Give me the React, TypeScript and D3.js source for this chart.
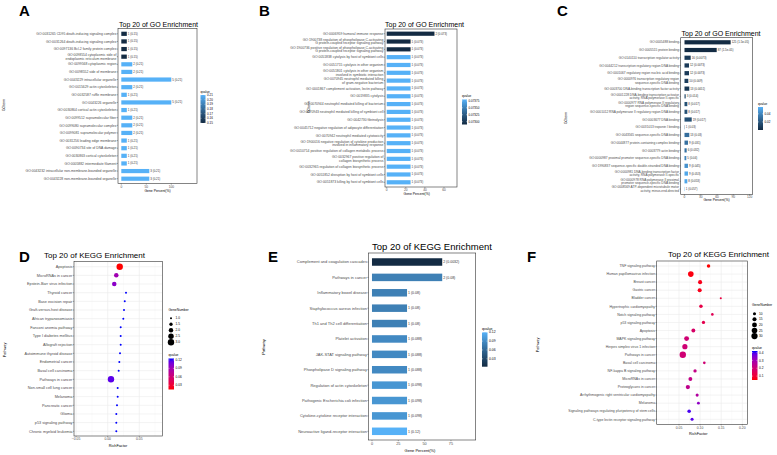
import React from "react";
import * as d3 from "d3";

const FONT = "'Liberation Sans', Arial, Helvetica, sans-serif";
const LOW = "#132B43";
const HIGH = "#56B1F7";

// ---------------- Panel A (GO) ----------------
const termsA = [
  "GO:0031265 CD95 death-inducing signaling complex",
  "GO:0031264 death-inducing signaling complex",
  "GO:0097136 Bcl-2 family protein complex",
  "GO:0098554 cytoplasmic side of\nendoplasmic reticulum membrane",
  "GO:0099568 cytoplasmic region",
  "GO:0098552 side of membrane",
  "GO:0043229 intracellular organelle",
  "GO:0015629 actin cytoskeleton",
  "GO:0032587 ruffle membrane",
  "GO:0043226 organelle",
  "GO:0030864 cortical actin cytoskeleton",
  "GO:0099512 supramolecular fiber",
  "GO:0099080 supramolecular complex",
  "GO:0099081 supramolecular polymer",
  "GO:0031256 leading edge membrane",
  "GO:0090734 site of DNA damage",
  "GO:0030863 cortical cytoskeleton",
  "GO:0005882 intermediate filament",
  "GO:0043232 intracellular non-membrane-bounded organelle",
  "GO:0043228 non-membrane-bounded organelle",
];
const countA = [1, 1, 1, 1, 2, 2, 5, 2, 1, 5, 1, 2, 2, 2, 1, 1, 1, 1, 3, 3];
const pctA = [11, 11, 11, 11, 22, 22, 100, 22, 11, 100, 11, 22, 22, 22, 11, 11, 11, 11, 56, 56];
const qA = [0.15, 0.15, 0.15, 0.15, 0.21, 0.21, 0.21, 0.21, 0.21, 0.21, 0.21, 0.21, 0.21, 0.21, 0.21, 0.21, 0.21, 0.21, 0.21, 0.21];
const xTicksA = [0, 50, 100];
const qTicksA = [0.15, 0.16, 0.17, 0.18, 0.19, 0.2, 0.21];

// ---------------- Panel B (GO) ----------------
const termsB = [
  "GO:0006959 humoral immune response",
  "GO:1900738 regulation of phospholipase C-activating\nG protein-coupled receptor signaling pathway",
  "GO:1900736 positive regulation of phospholipase C-activating\nG protein-coupled receptor signaling pathway",
  "GO:0051838 cytolysis by host of symbiont cells",
  "GO:0051715 cytolysis in other organism",
  "GO:0051801 cytolysis in other organism\ninvolved in symbiotic interaction",
  "GO:0070945 neutrophil mediated killing\nof gram-negative bacterium",
  "GO:0001867 complement activation, lectin pathway",
  "GO:0019835 cytolysis",
  "GO:0070944 neutrophil mediated killing of bacterium",
  "GO:0070943 neutrophil mediated killing of symbiont cell",
  "GO:0042730 fibrinolysis",
  "GO:0045712 negative regulation of adipocyte differentiation",
  "GO:0070942 neutrophil mediated cytotoxicity",
  "GO:1900016 negative regulation of cytokine production\ninvolved in inflammatory response",
  "GO:0010714 positive regulation of collagen metabolic process",
  "GO:0032967 positive regulation of\ncollagen biosynthetic process",
  "GO:0032965 regulation of collagen biosynthetic process",
  "GO:0051852 disruption by host of symbiont cells",
  "GO:0051873 killing by host of symbiont cells",
];
const countB = [2, 1, 1, 1, 1, 1, 1, 1, 1, 1, 1, 1, 1, 1, 1, 1, 1, 1, 1, 1];
const pctB = [50, 25, 25, 25, 25, 25, 25, 25, 25, 25, 25, 25, 25, 25, 25, 25, 25, 25, 25, 25];
const qB = [0.0729, 0.0729, 0.0729, 0.0738, 0.0738, 0.0738, 0.0738, 0.0738, 0.0738, 0.0738, 0.0738, 0.0738, 0.0738, 0.0738, 0.0738, 0.0738, 0.0738, 0.0738, 0.0738, 0.0738];
const qTextB = ["0.073", "0.073", "0.073", "0.073", "0.073", "0.073", "0.073", "0.073", "0.073", "0.073", "0.073", "0.073", "0.073", "0.073", "0.073", "0.073", "0.073", "0.073", "0.073", "0.073"];
const xTicksB = [0, 20, 40, 60];
const qTicksB = [0.073, 0.07325, 0.0735, 0.07375];

// ---------------- Panel C (GO) ----------------
const termsC = [
  "GO:0005488 binding",
  "GO:0005515 protein binding",
  "GO:0140110 transcription regulator activity",
  "GO:0044212 transcription regulatory region DNA binding",
  "GO:0001067 regulatory region nucleic acid binding",
  "GO:0000976 transcription regulatory region\nsequence-specific DNA binding",
  "GO:0003700 DNA-binding transcription factor activity",
  "GO:0001228 DNA-binding transcription activator\nactivity, RNA polymerase II-specific",
  "GO:0000977 RNA polymerase II regulatory\nregion sequence-specific DNA binding",
  "GO:0001012 RNA polymerase II regulatory region DNA binding",
  "GO:0003677 DNA binding",
  "GO:0031013 troponin I binding",
  "GO:0043565 sequence-specific DNA binding",
  "GO:0044877 protein-containing complex binding",
  "GO:0003779 actin binding",
  "GO:0000987 proximal promoter sequence-specific DNA binding",
  "GO:1990837 sequence-specific double-stranded DNA binding",
  "GO:0000981 DNA-binding transcription factor\nactivity, RNA polymerase II-specific",
  "GO:0000978 RNA polymerase II proximal\npromoter sequence-specific DNA binding",
  "GO:0008569 ATP-dependent microtubule motor\nactivity, minus-end-directed",
];
const countC = [125, 87, 16, 12, 12, 10, 13, 3, 8, 8, 19, 1, 13, 9, 6, 5, 9, 9, 8, 1];
const pctC = [85, 59.3, 11.4, 8.3, 8.3, 7, 8.8, 2.2, 5.2, 5.2, 13.3, 0.6, 8.8, 6.4, 4, 3.3, 6.4, 6.4, 5.2, 0.6];
const qC = [0.000015, 0.000015, 0.0073, 0.0073, 0.0073, 0.009, 0.0051, 0.014, 0.017, 0.017, 0.017, 0.03, 0.03, 0.031, 0.032, 0.04, 0.045, 0.053, 0.053, 0.057];
const qTextC = ["1.5e-05", "1.5e-05", "0.0073", "0.0073", "0.0073", "0.009", "0.0051", "0.014", "0.017", "0.017", "0.017", "0.03", "0.03", "0.031", "0.032", "0.04", "0.045", "0.053", "0.053", "0.057"];
const xTicksC = [0, 30, 60, 90, 120];
const qTicksC = [0.02, 0.04];

// ---------------- Panel D (KEGG dot) ----------------
const termsD = [
  "Apoptosis", "MicroRNAs in cancer", "Epstein-Barr virus infection", "Thyroid cancer",
  "Base excision repair", "Graft-versus-host disease", "African trypanosomiasis",
  "Fanconi anemia pathway", "Type I diabetes mellitus", "Allograft rejection",
  "Autoimmune thyroid disease", "Endometrial cancer", "Basal cell carcinoma",
  "Pathways in cancer", "Non-small cell lung cancer", "Melanoma", "Pancreatic cancer",
  "Glioma", "p53 signaling pathway", "Chronic myeloid leukemia",
];
const richD = [0.019, 0.0136, 0.0104, 0.029, 0.027, 0.0258, 0.0247, 0.0206, 0.0206, 0.0206, 0.0195, 0.0184, 0.0174, 0.0052, 0.0158, 0.0158, 0.0147, 0.0136, 0.0136, 0.0136];
const geneD = [3, 2, 2, 1, 1, 1, 1, 1, 1, 1, 1, 1, 1, 3, 1, 1, 1, 1, 1, 1];
const qD = [0.015, 0.09, 0.1, 0.125, 0.125, 0.125, 0.125, 0.125, 0.125, 0.125, 0.125, 0.125, 0.125, 0.115, 0.125, 0.125, 0.125, 0.125, 0.125, 0.125];
const xTicksD = [-0.05, 0, 0.05];
const sizeTicksD = [1, 1.5, 2, 2.5, 3];
const qTicksD = [0.03, 0.06, 0.09, 0.12];

// ---------------- Panel E (KEGG bar) ----------------
const termsE = [
  "Complement and coagulation cascades", "Pathways in cancer", "Inflammatory bowel disease",
  "Staphylococcus aureus infection", "Th1 and Th2 cell differentiation", "Platelet activation",
  "JAK-STAT signaling pathway", "Phospholipase D signaling pathway", "Regulation of actin cytoskeleton",
  "Pathogenic Escherichia coli infection", "Cytokine-cytokine receptor interaction",
  "Neuroactive ligand-receptor interaction",
];
const countE = [2, 2, 1, 1, 1, 1, 1, 1, 1, 1, 1, 1];
const pctE = [66.7, 66.7, 33.3, 33.3, 33.3, 33.3, 33.3, 33.3, 33.3, 33.3, 33.3, 33.3];
const qE = [0.0032, 0.08, 0.08, 0.08, 0.08, 0.088, 0.088, 0.088, 0.098, 0.098, 0.098, 0.12];
const qTextE = ["0.0032", "0.08", "0.08", "0.08", "0.08", "0.088", "0.088", "0.088", "0.098", "0.098", "0.098", "0.12"];
const xTicksE = [0, 25, 50, 75];
const qTicksE = [0.03, 0.06, 0.09, 0.12];

// ---------------- Panel F (KEGG dot) ----------------
const termsF = [
  "TNF signaling pathway", "Human papillomavirus infection", "Breast cancer", "Gastric cancer",
  "Bladder cancer", "Hypertrophic cardiomyopathy", "Notch signaling pathway", "p53 signaling pathway",
  "Apoptosis", "MAPK signaling pathway", "Herpes simplex virus 1 infection", "Pathways in cancer",
  "Basal cell carcinoma", "NF-kappa B signaling pathway", "MicroRNAs in cancer",
  "Proteoglycans in cancer", "Arrhythmogenic right ventricular cardiomyopathy", "Melanoma",
  "Signaling pathways regulating pluripotency of stem cells", "C-type lectin receptor signaling pathway",
];
const richF = [0.12, 0.078, 0.1, 0.099, 0.149, 0.102, 0.129, 0.108, 0.084, 0.068, 0.064, 0.059, 0.11, 0.088, 0.077, 0.071, 0.093, 0.096, 0.074, 0.081];
const geneF = [12, 25, 15, 15, 6, 12, 8, 11, 14, 20, 22, 31, 8, 11, 14, 16, 10, 9, 12, 10];
const qF = [0.05, 0.06, 0.07, 0.07, 0.12, 0.13, 0.15, 0.14, 0.18, 0.2, 0.2, 0.2, 0.2, 0.23, 0.23, 0.24, 0.27, 0.33, 0.4, 0.39];
const xTicksF = [0.05, 0.1, 0.15, 0.2];
const sizeTicksF = [10, 15, 20, 25, 30];
const qTicksF = [0.1, 0.2, 0.3, 0.4];

// ---------------- helpers ----------------
function fmtQ(q: number) {
  if (q < 0.001) return q.toExponential(1).replace(/e-(\d)$/, "e-0$1");
  return String(q);
}

function Lines({ x, y, text, size, anchor = "end", fill = "#4D4D4D", lh = 1.05 }: any) {
  const lines = String(text).split("\n");
  const step = size * lh;
  const y0 = y - ((lines.length - 1) * step) / 2;
  return (
    <text fontSize={size} textAnchor={anchor} fill={fill} fontFamily={FONT}>
      {lines.map((l: string, i: number) => (
        <tspan key={i} x={x} y={y0 + i * step} dy="0.35em">
          {l}
        </tspan>
      ))}
    </text>
  );
}

function ColorBar({ id, x, y, w, h, domain, ticks, fmt, low, high, title, fs }: any) {
  const c = d3.scaleLinear<string>().domain(domain).range([low, high]).interpolate(d3.interpolateLab);
  const s = d3.scaleLinear().domain(domain).range([y + h, y]);
  const stops = d3.range(0, 11).map((i) => i / 10);
  return (
    <g>
      <text x={x} y={y - 2.5} fontSize={fs * 1.05} fontFamily={FONT} fill="#000">
        {title}
      </text>
      <defs>
        <linearGradient id={id} x1="0" y1="1" x2="0" y2="0">
          {stops.map((t) => (
            <stop key={t} offset={t} stopColor={c(domain[0] + t * (domain[1] - domain[0]))} />
          ))}
        </linearGradient>
      </defs>
      <rect x={x} y={y} width={w} height={h} fill={`url(#${id})`} />
      {ticks.map((t: number) => (
        <g key={t}>
          <line x1={x} x2={x + w * 0.2} y1={s(t)} y2={s(t)} stroke="#fff" strokeWidth={0.4} />
          <line x1={x + w * 0.8} x2={x + w} y1={s(t)} y2={s(t)} stroke="#fff" strokeWidth={0.4} />
          <text x={x + w + 1.5} y={s(t)} dy="0.35em" fontSize={fs} fontFamily={FONT} fill="#000">
            {fmt(t)}
          </text>
        </g>
      ))}
    </g>
  );
}

function BarPanel({ id, cfg, terms, pct, count, q, qText, xTicks, qTicks }: any) {
  const x = d3.scaleLinear().domain(cfg.xDomain).range([cfg.fx0, cfg.fx1]);
  const y = d3.scalePoint<number>().domain(terms.map((_: any, i: number) => i)).range([cfg.r0, cfg.r1]);
  const color = d3.scaleLinear<string>().domain(cfg.qDomain).range([LOW, HIGH]).interpolate(d3.interpolateLab).clamp(true);
  const bh = cfg.barH;
  return (
    <g>
      <text x={cfg.letter[0]} y={cfg.letter[1]} fontSize={cfg.letterSize} fontWeight="bold" fontFamily={FONT}>
        {cfg.letterText}
      </text>
      <text x={cfg.title[0]} y={cfg.title[1]} fontSize={cfg.titleSize} fontFamily={FONT} fill="#000">
        {cfg.titleText}
      </text>
      <rect x={cfg.fx0} y={cfg.fy0} width={cfg.fx1 - cfg.fx0} height={cfg.fy1 - cfg.fy0} fill="#fff" stroke="#333" strokeWidth={0.6} />
      {terms.map((t: string, i: number) => (
        <g key={i}>
          <rect x={x(0)} y={(y(i) as number) - bh / 2} width={x(pct[i]) - x(0)} height={bh} fill={color(q[i])} />
          <text x={x(pct[i]) + 1} y={y(i)} dy="0.35em" fontSize={cfg.valSize} fontFamily={FONT} fill="#333">
            {`${count[i]} (${qText ? qText[i] : fmtQ(q[i])})`}
          </text>
          <line x1={cfg.fx0 - 1.2} x2={cfg.fx0} y1={y(i)} y2={y(i)} stroke="#333" strokeWidth={0.4} />
          <Lines x={cfg.fx0 - 1.6} y={y(i)} text={t} size={cfg.labSize} />
        </g>
      ))}
      {xTicks.map((t: number) => (
        <g key={t}>
          <line x1={x(t)} x2={x(t)} y1={cfg.fy1} y2={cfg.fy1 + 1.2} stroke="#333" strokeWidth={0.4} />
          <text x={x(t)} y={cfg.fy1 + 1.6 + cfg.tickSize * 0.8} fontSize={cfg.tickSize} textAnchor="middle" fontFamily={FONT} fill="#4D4D4D">
            {t}
          </text>
        </g>
      ))}
      <text x={cfg.xTitle[0]} y={cfg.xTitle[1]} fontSize={cfg.axTitleSize} textAnchor="middle" fontFamily={FONT}>
        Gene Percent(%)
      </text>
      <text
        transform={`translate(${cfg.yTitle[0]},${cfg.yTitle[1]}) rotate(-90)`}
        fontSize={cfg.axTitleSize}
        textAnchor="middle"
        fontFamily={FONT}
      >
        {cfg.yTitleText}
      </text>
      <ColorBar
        id={id}
        x={cfg.legend[0]}
        y={cfg.legend[1]}
        w={cfg.legend[2]}
        h={cfg.legend[3]}
        domain={cfg.qDomain}
        ticks={qTicks}
        fmt={cfg.qFmt}
        low={LOW}
        high={HIGH}
        title="qvalue"
        fs={cfg.legSize}
      />
    </g>
  );
}

function DotPanel({ id, cfg, terms, rich, gene, q, xTicks, sizeTicks, qTicks }: any) {
  const x = d3.scaleLinear().domain(cfg.xDomain).range([cfg.fx0, cfg.fx1]);
  const y = d3.scalePoint<number>().domain(terms.map((_: any, i: number) => i)).range([cfg.r0, cfg.r1]);
  const r = d3.scaleSqrt().domain(cfg.sizeDomain).range(cfg.sizeRange);
  const color = d3.scaleLinear<string>().domain(cfg.qDomain).range(["#FF0000", "#0000FF"]).interpolate(d3.interpolateLab).clamp(true);
  const minor = xTicks.slice(0, -1).map((t: number, i: number) => (t + xTicks[i + 1]) / 2);
  const step = xTicks[1] - xTicks[0];
  minor.unshift(xTicks[0] - step / 2);
  minor.push(xTicks[xTicks.length - 1] + step / 2);
  return (
    <g>
      <text x={cfg.letter[0]} y={cfg.letter[1]} fontSize={cfg.letterSize} fontWeight="bold" fontFamily={FONT}>
        {cfg.letterText}
      </text>
      <text x={cfg.title[0]} y={cfg.title[1]} fontSize={cfg.titleSize} fontFamily={FONT} fill="#000">
        Top 20 of KEGG Enrichment
      </text>
      <rect x={cfg.fx0} y={cfg.fy0} width={cfg.fx1 - cfg.fx0} height={cfg.fy1 - cfg.fy0} fill="#fff" />
      <g clipPath={`url(#clip-${id})`}>
        <defs>
          <clipPath id={`clip-${id}`}>
            <rect x={cfg.fx0} y={cfg.fy0} width={cfg.fx1 - cfg.fx0} height={cfg.fy1 - cfg.fy0} />
          </clipPath>
        </defs>
        {minor.map((t: number) => (
          <line key={"m" + t} x1={x(t)} x2={x(t)} y1={cfg.fy0} y2={cfg.fy1} stroke="#F2F2F2" strokeWidth={0.3} />
        ))}
        {xTicks.map((t: number) => (
          <line key={"g" + t} x1={x(t)} x2={x(t)} y1={cfg.fy0} y2={cfg.fy1} stroke="#EBEBEB" strokeWidth={0.6} />
        ))}
        {terms.map((_: string, i: number) => (
          <line key={"h" + i} x1={cfg.fx0} x2={cfg.fx1} y1={y(i)} y2={y(i)} stroke="#EBEBEB" strokeWidth={0.6} />
        ))}
        {terms.map((_: string, i: number) => (
          <circle key={"c" + i} cx={x(rich[i])} cy={y(i)} r={r(gene[i])} fill={color(q[i])} />
        ))}
      </g>
      <rect x={cfg.fx0} y={cfg.fy0} width={cfg.fx1 - cfg.fx0} height={cfg.fy1 - cfg.fy0} fill="none" stroke="#333" strokeWidth={0.6} />
      {terms.map((t: string, i: number) => (
        <g key={i}>
          <line x1={cfg.fx0 - 1.2} x2={cfg.fx0} y1={y(i)} y2={y(i)} stroke="#333" strokeWidth={0.4} />
          <Lines x={cfg.fx0 - 1.6} y={y(i)} text={t} size={cfg.labSize} />
        </g>
      ))}
      {xTicks.map((t: number) => (
        <g key={t}>
          <line x1={x(t)} x2={x(t)} y1={cfg.fy1} y2={cfg.fy1 + 1.2} stroke="#333" strokeWidth={0.4} />
          <text x={x(t)} y={cfg.fy1 + 1.6 + cfg.tickSize * 0.8} fontSize={cfg.tickSize} textAnchor="middle" fontFamily={FONT} fill="#4D4D4D">
            {d3.format(".2f")(t)}
          </text>
        </g>
      ))}
      <text x={cfg.xTitle[0]} y={cfg.xTitle[1]} fontSize={cfg.axTitleSize} textAnchor="middle" fontFamily={FONT}>
        RichFactor
      </text>
      <text transform={`translate(${cfg.yTitle[0]},${cfg.yTitle[1]}) rotate(-90)`} fontSize={cfg.axTitleSize} textAnchor="middle" fontFamily={FONT}>
        Pathway
      </text>
      <g>
        <text x={cfg.sizeLegend[0]} y={cfg.sizeLegend[1]} fontSize={cfg.legSize * 1.05} fontFamily={FONT}>
          GeneNumber
        </text>
        {sizeTicks.map((s: number, i: number) => {
          const yy = cfg.sizeLegend[1] + cfg.sizeLegend[3] + i * cfg.sizeLegend[2];
          return (
            <g key={s}>
              <circle cx={cfg.sizeLegend[0] + 2.5} cy={yy} r={r(s)} fill="#000" />
              <text x={cfg.sizeLegend[0] + 7} y={yy} dy="0.35em" fontSize={cfg.legSize} fontFamily={FONT}>
                {cfg.sizeFmt(s)}
              </text>
            </g>
          );
        })}
      </g>
      <ColorBar
        id={id + "-q"}
        x={cfg.legend[0]}
        y={cfg.legend[1]}
        w={cfg.legend[2]}
        h={cfg.legend[3]}
        domain={cfg.qDomain}
        ticks={qTicks}
        fmt={cfg.qFmt}
        low="#FF0000"
        high="#0000FF"
        title="qvalue"
        fs={cfg.legSize}
      />
    </g>
  );
}

const cfgA = {
  letterText: "A", letter: [19, 16], letterSize: 15,
  titleText: "Top 20 of GO Enrichment", title: [119, 26.8], titleSize: 7,
  fx0: 118, fx1: 197, fy0: 28.3, fy1: 183.5, r0: 33.8, r1: 178.7, barH: 4.2,
  xDomain: [-6.6, 151.4], qDomain: [0.15, 0.21],
  labSize: 3.4, valSize: 2.9, tickSize: 3.2, axTitleSize: 3.4, legSize: 3,
  xTitle: [157.5, 192], yTitle: [5, 105], yTitleText: "GOterm",
  legend: [200.5, 95, 5, 28], qFmt: d3.format(".2f"),
};
const cfgB = {
  letterText: "B", letter: [259, 16], letterSize: 15,
  titleText: "Top 20 of GO Enrichment", title: [385, 26.8], titleSize: 7,
  fx0: 385, fx1: 457, fy0: 29, fy1: 187, r0: 33.7, r1: 182.3, barH: 4.2,
  xDomain: [-1.8, 73.6], qDomain: [0.0729, 0.0738],
  labSize: 3.4, valSize: 2.9, tickSize: 3.2, axTitleSize: 3.4, legSize: 3,
  xTitle: [416.7, 195], yTitle: [309.5, 107], yTitleText: "GOterm",
  legend: [462, 99.5, 5, 25], qFmt: d3.format(".5f"),
};
const cfgC = {
  letterText: "C", letter: [557, 16], letterSize: 15,
  titleText: "Top 20 of GO Enrichment", title: [681.5, 35.8], titleSize: 7,
  fx0: 680.7, fx1: 752.7, fy0: 37.7, fy1: 194.3, r0: 42.3, r1: 189, barH: 4.2,
  xDomain: [-7, 125.6], qDomain: [0.000015, 0.057],
  labSize: 3.2, valSize: 2.9, tickSize: 3.2, axTitleSize: 3.4, legSize: 3,
  xTitle: [716.5, 201], yTitle: [567, 118], yTitleText: "GOterm",
  legend: [758, 107, 5, 23], qFmt: d3.format(".2f"),
};
const cfgE = {
  letterText: "E", letter: [268, 262], letterSize: 15,
  titleText: "Top 20 of KEGG Enrichment", title: [372, 250], titleSize: 9.5,
  fx0: 368.5, fx1: 475.7, fy0: 253, fy1: 440, r0: 262, r1: 431.3, barH: 7.5,
  xDomain: [-3.3, 98.5], qDomain: [0.0032, 0.12],
  labSize: 4, valSize: 3.5, tickSize: 3.8, axTitleSize: 4, legSize: 3.4,
  xTitle: [420, 452], yTitle: [265, 347], yTitleText: "Pathway",
  legend: [482, 332.3, 5.5, 34.4], qFmt: d3.format(".2f"),
};
const cfgD = {
  letterText: "D", letter: [19, 262], letterSize: 15,
  title: [44, 258], titleSize: 8,
  fx0: 74, fx1: 162.3, fy0: 261.5, fy1: 436, r0: 266.7, r1: 431.3,
  xDomain: [-0.0533, 0.0864], qDomain: [0.015, 0.125],
  sizeDomain: [1, 3], sizeRange: [1, 3.2],
  labSize: 3.8, tickSize: 3.4, axTitleSize: 3.8, legSize: 3.2,
  xTitle: [118, 447], yTitle: [6, 350],
  sizeLegend: [168.5, 311, 6, 7.3], sizeFmt: d3.format(".1f"),
  legend: [168.5, 358.5, 5.5, 31], qFmt: d3.format(".2f"),
};
const cfgF = {
  letterText: "F", letter: [527, 262], letterSize: 15,
  title: [668, 257], titleSize: 8,
  fx0: 656.7, fx1: 747.3, fy0: 261, fy1: 424.3, r0: 266, r1: 419.3,
  xDomain: [-0.0028, 0.2118], qDomain: [0.05, 0.42],
  sizeDomain: [5, 31], sizeRange: [0.9, 3.2],
  labSize: 3.5, tickSize: 3.4, axTitleSize: 3.8, legSize: 3.2,
  xTitle: [698.3, 434.5], yTitle: [539, 345],
  sizeLegend: [752, 306, 5.6, 7.7], sizeFmt: d3.format("d"),
  legend: [752, 351, 5.5, 29], qFmt: d3.format(".1f"),
};

export default function App() {
  return (
    <div style={{ position: "absolute", left: 0, top: 0 }}>
      <svg width={777} height={455} viewBox="0 0 777 455" style={{ display: "block", background: "#fff" }}>
        <rect width={777} height={455} fill="#fff" />
        <BarPanel id="gA" cfg={cfgA} terms={termsA} pct={pctA} count={countA} q={qA} xTicks={xTicksA} qTicks={qTicksA} />
        <BarPanel id="gB" cfg={cfgB} terms={termsB} pct={pctB} count={countB} q={qB} qText={qTextB} xTicks={xTicksB} qTicks={qTicksB} />
        <BarPanel id="gC" cfg={cfgC} terms={termsC} pct={pctC} count={countC} q={qC} qText={qTextC} xTicks={xTicksC} qTicks={qTicksC} />
        <DotPanel id="gD" cfg={cfgD} terms={termsD} rich={richD} gene={geneD} q={qD} xTicks={xTicksD} sizeTicks={sizeTicksD} qTicks={qTicksD} />
        <BarPanel id="gE" cfg={cfgE} terms={termsE} pct={pctE} count={countE} q={qE} qText={qTextE} xTicks={xTicksE} qTicks={qTicksE} />
        <DotPanel id="gF" cfg={cfgF} terms={termsF} rich={richF} gene={geneF} q={qF} xTicks={xTicksF} sizeTicks={sizeTicksF} qTicks={qTicksF} />
      </svg>
    </div>
  );
}
